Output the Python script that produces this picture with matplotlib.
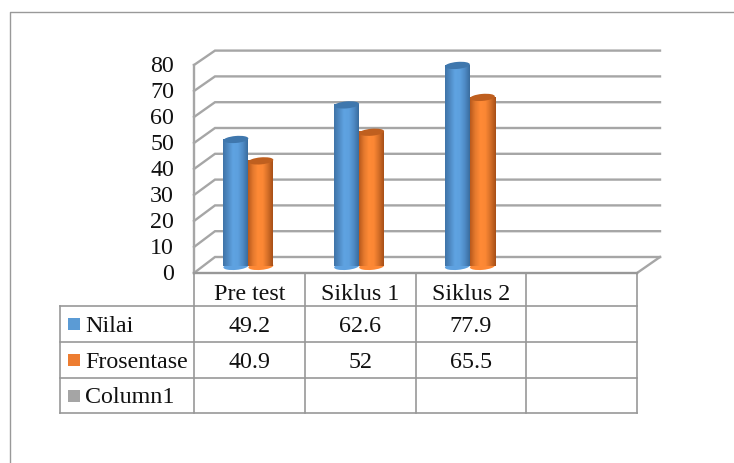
import numpy as np
import matplotlib
matplotlib.use("Agg")
from matplotlib import pyplot as plt
from matplotlib.patches import Ellipse, Rectangle
from matplotlib.colors import LinearSegmentedColormap
from matplotlib.transforms import IdentityTransform, ScaledTranslation

plt.rcParams['font.family'] = ['Liberation Serif', 'DejaVu Serif']

categories = ["Pre test", "Siklus 1", "Siklus 2"]
nilai = [49.2, 62.6, 77.9]
frosentase = [40.9, 52, 65.5]
labels_nilai = ["49.2", "62.6", "77.9"]
labels_frosentase = ["40.9", "52", "65.5"]
series_names = ["Nilai", "Frosentase", "Column1"]
y_ticks = [0, 10, 20, 30, 40, 50, 60, 70, 80]

W, H = 734, 463
GRID = "#a6a6a6"
LINE = "#989898"
TXT = "#111111"

fig = plt.figure(figsize=(W / 100, H / 100), dpi=100)


def rect_px(x0, y0, x1, y1):
    return [x0 / W, 1 - y1 / H, (x1 - x0) / W, (y1 - y0) / H]


# overlay in pixels for frame, walls and table
pg = fig.add_axes([0, 0, 1, 1])
pg.set_xlim(0, W)
pg.set_ylim(H, 0)
pg.axis("off")

# chart axes: 4 slots over the table columns (moved 1px left), 0-80 at the middle of the depth
ax = fig.add_axes(rect_px(193, 60, 636, 266.4), zorder=2)
ax.axis("off")
ax.patch.set_alpha(0)

# chart frame
pg.plot([10, 10, W], [H, 12, 12], color="#999999", lw=1.0)

# walls
x_front, x_back, x_end_front, x_end_back = 194, 215, 637, 660
for v in y_ticks:
    yf = 273 - v * 2.6
    yb = 257 - v * 2.58
    pg.plot([x_front, x_back, x_end_back], [yf, yb, yb], color=GRID, lw=1.7, solid_joinstyle="miter")
    pg.text(174, yf - 0.5, str(v), ha="right", va="center_baseline", fontsize=17.3, color=TXT)
pg.plot([x_front, x_front], [65, 273], color=GRID, lw=1.7)
pg.plot([x_end_front, x_end_back], [273, 257], color=GRID, lw=1.7)

# table
cols = [194, 305, 416, 526, 637]
rows = [273, 306, 342, 378, 413]
left = 60
pg.plot([x_front, x_end_front], [273, 273], color=LINE, lw=1.7)
for r in rows[1:]:
    pg.plot([left, cols[-1]], [r, r], color=LINE, lw=1.2)
pg.plot([left, left], [rows[1], rows[-1]], color=LINE, lw=1.2)
for c in cols:
    pg.plot([c, c], [rows[0], rows[-1]], color=LINE, lw=1.2)

cell_font = 17.3
for i, name in enumerate(categories):
    xc = (cols[i] + cols[i + 1]) / 2
    pg.text(xc, 292.5, name, ha="center", va="center_baseline", fontsize=cell_font, color=TXT)
    pg.text(xc, 323.5, labels_nilai[i], ha="center", va="center_baseline", fontsize=cell_font, color=TXT)
    pg.text(xc, 359.5, labels_frosentase[i], ha="center", va="center_baseline", fontsize=cell_font, color=TXT)

key_colors = ["#5b9bd5", "#ed7d31", "#a5a5a5"]
for i, name in enumerate(series_names):
    yc = (rows[i + 1] + rows[i + 2]) / 2
    pg.add_patch(Rectangle((68, yc - 6), 12, 12, color=key_colors[i], lw=0))
    pg.text(85, yc - 0.5, name, ha="left", va="center_baseline", fontsize=cell_font, color=TXT)

# cylinders
blue_map = LinearSegmentedColormap.from_list("b", ["#3f74a8", "#4f8ac4", "#5fa3e2", "#5da0de", "#4f8bc6", "#3a6c9e"])
orange_map = LinearSegmentedColormap.from_list("o", ["#b9591c", "#e57a2e", "#ff8a36", "#fb8734", "#d56f28", "#a84f17"])
shade = np.linspace(0, 1, 64).reshape(1, -1)
width = 25 * 4 / 443
cap_w, cap_h = 25, 7  # pixels
cap_data = cap_h * 80 / 206.4
ax.set_xlim(-0.5, 3.5)
ax.set_ylim(0, 80)


def cap(x, y, **kw):
    # ellipse sized in pixels, placed from data values
    tr = IdentityTransform() + ScaledTranslation(x, y, ax.transData)
    return Ellipse((0, 0), cap_w, cap_h, angle=5, transform=tr, lw=0, **kw)


for vals, off, cm, top_col in [(nilai, -width / 2, blue_map, "#3f77ad"), (frosentase, width / 2, orange_map, "#bf5f1f")]:
    bars = ax.bar(np.arange(len(vals)) + off, vals, width, color="none", lw=0, zorder=3)
    for b in bars:
        x0, x1 = b.get_x(), b.get_x() + b.get_width()
        xm = (x0 + x1) / 2
        h = b.get_height()
        base = cap(xm, 0, color=cm(0.5), zorder=3)
        ax.add_patch(base)
        base.set_clip_on(False)
        # body gradient, running down to the bottom edge of the cylinder; rounded off by the clip
        low = ax.imshow(shade, cmap=cm, extent=[x0, x1, -cap_data / 2, cap_data / 2], aspect="auto", zorder=3.2)
        low.set_clip_path(base)
        low.set_clip_box(None)
        ax.imshow(shade, cmap=cm, extent=[x0, x1, 0, h], aspect="auto", zorder=3.5)
        top = cap(xm, h, color=top_col, zorder=4)
        ax.add_patch(top)
        top.set_clip_on(False)
ax.set_xlim(-0.5, 3.5)
ax.set_ylim(0, 80)

fig.savefig("out.png", dpi=100)
